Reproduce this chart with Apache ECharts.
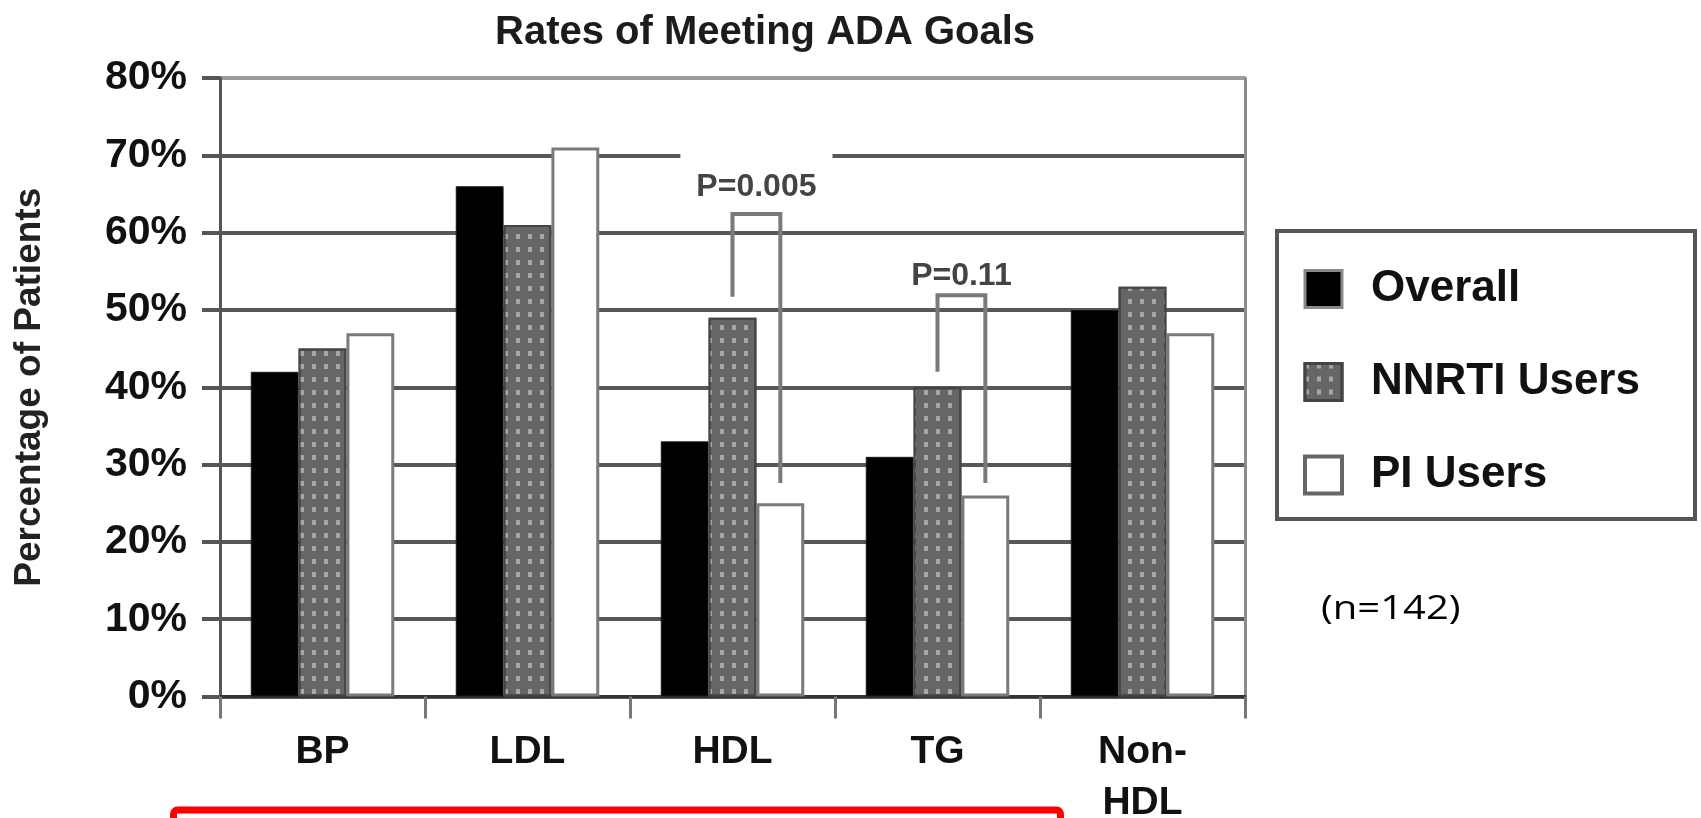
<!DOCTYPE html>
<html>
<head>
<meta charset="utf-8">
<script src="https://cdn.jsdelivr.net/npm/echarts@6/dist/echarts.min.js"></script>
<style>
  html, body { margin: 0; padding: 0; background: #fff; }
  #chart { width: 1701px; height: 818px; }
</style>
</head>
<body>
<div id="chart"></div>
<script>
// Goal categories and the share of patients (%) meeting each ADA goal
const categories = ['BP', 'LDL', 'HDL', 'TG', 'Non-\nHDL'];
const overall = [42, 66, 33, 31, 50];
const nnrtiUsers = [45, 61, 49, 40, 53];
const piUsers = [47, 71, 25, 26, 47];

// Y axis scale (%)
const yMin = 0;
const yMax = 80;
const yStep = 10;

// Significance brackets between NNRTI and PI bars (all levels in %)
const bracketCats = ['HDL', 'TG'];
const bracketTop = [62.4, 51.9];
const bracketLeftEnd = [51.7, 42];
const bracketRightEnd = [27.6, 27.6];
const bracketLabelLevel = [66.2, 54.7];
const bracketLabels = ['P=0.005', 'P=0.11'];

const FONT = '"Liberation Sans", Arial, sans-serif';
const CAT_GAP = 0.30;   // share of each category band left empty
const N_BARS = 3;

const chart = echarts.init(document.getElementById('chart'), null, { renderer: 'canvas' });

const gridColors = [];
for (let v = yMin; v <= yMax; v += yStep) gridColors.push(v === yMax ? '#9c9c9c' : '#575757');

function renderBracket(params, api) {
  const idx = api.value(0);
  const center = api.coord([idx, 0])[0];
  const band = api.size([1, 0])[0];
  const barW = band * (1 - CAT_GAP) / N_BARS;
  const xl = center;          // middle of the NNRTI bar
  const xr = center + barW;   // middle of the PI bar
  const yTop = api.coord([idx, api.value(1)])[1];
  const yL = api.coord([idx, api.value(2)])[1];
  const yR = api.coord([idx, api.value(3)])[1];
  const yText = api.coord([idx, api.value(4)])[1];
  return {
    type: 'group',
    children: [
      {
        // p-value on a white plate; the bottom anchor sits below the glyph centre
        type: 'text',
        x: (xl + xr) / 2,
        y: yText + 22.5,
        style: {
          text: bracketLabels[params.dataIndex],
          font: 'bold 32px ' + FONT,
          fill: '#444',
          align: 'center',
          verticalAlign: 'bottom',
          backgroundColor: '#fff',
          padding: [18.5, 16, 4, 16]
        }
      },
      {
        type: 'polyline',
        shape: { points: [[xl, yL], [xl, yTop], [xr, yTop], [xr, yR]] },
        style: { stroke: '#7a7a7a', lineWidth: 4, fill: null, lineJoin: 'miter' }
      }
    ]
  };
}

const option = {
  animation: false,
  backgroundColor: '#fff',
  title: {
    text: 'Rates of Meeting ADA Goals',
    left: 490,
    top: 8,
    textStyle: { fontFamily: FONT, fontSize: 40, fontWeight: 'bold', color: '#1c1c1c' }
  },
  grid: {
    left: 220, right: 456, top: 78, bottom: 121.5,
    containLabel: false,
    outerBoundsMode: 'none'
  },
  legend: {
    orient: 'vertical',
    left: 1298,
    top: 262,
    icon: 'rect',
    itemWidth: 37,
    itemHeight: 37,
    itemGap: 49,
    selectedMode: false,
    textStyle: {
      fontFamily: FONT, fontSize: 44, fontWeight: 'bold', color: '#111',
      lineHeight: 37, padding: [0, 0, 0, 24]
    },
    data: [
      { name: 'Overall', itemStyle: { borderColor: '#8a8a8a', borderWidth: 3 } },
      { name: 'NNRTI Users', itemStyle: { borderColor: '#444', borderWidth: 3 } },
      { name: 'PI Users', itemStyle: { borderColor: '#666', borderWidth: 4 } }
    ]
  },
  xAxis: {
    type: 'category',
    data: categories,
    boundaryGap: true,
    axisLine: { lineStyle: { color: '#333', width: 3 } },
    axisTick: { show: true, length: 22, lineStyle: { color: '#777', width: 3 } },
    axisLabel: {
      margin: 30, fontFamily: FONT, fontSize: 39, fontWeight: 'bold',
      color: '#111', lineHeight: 51
    },
    splitLine: { show: false }
  },
  yAxis: [
    {
      type: 'value',
      min: yMin,
      max: yMax,
      interval: yStep,
      name: 'Percentage of Patients',
      nameLocation: 'middle',
      nameGap: 172,
      nameTextStyle: { fontFamily: FONT, fontSize: 37, fontWeight: 'bold', color: '#222' },
      axisLine: { show: true, lineStyle: { color: '#555', width: 3 } },
      axisTick: { show: true, length: 18, lineStyle: { color: '#555', width: 4 } },
      axisLabel: {
        margin: 33, fontFamily: FONT, fontSize: 41, fontWeight: 'bold', color: '#111',
        formatter: '{value}%'
      },
      splitLine: { show: true, lineStyle: { color: gridColors, width: 4 } }
    },
    {
      type: 'value',
      min: yMin,
      max: yMax,
      interval: yStep,
      position: 'right',
      axisLine: { show: true, lineStyle: { color: '#8c8c8c', width: 3 } },
      axisTick: { show: false },
      axisLabel: { show: false },
      splitLine: { show: false }
    }
  ],
  series: [
    {
      name: 'Overall',
      type: 'bar',
      data: overall,
      barGap: '0%',
      barCategoryGap: (CAT_GAP * 100) + '%',
      itemStyle: { color: '#000', borderColor: '#1a1a1a', borderWidth: 1 }
    },
    {
      name: 'NNRTI Users',
      type: 'bar',
      data: nnrtiUsers,
      barGap: '0%',
      barCategoryGap: (CAT_GAP * 100) + '%',
      itemStyle: {
        color: '#666666',
        borderColor: '#454545',
        borderWidth: 2,
        decal: {
          symbol: 'rect',
          symbolSize: 1,
          dashArrayX: [4, 8],
          dashArrayY: [5, 8],
          color: '#a6a6a6',
          rotation: 0
        }
      }
    },
    {
      name: 'PI Users',
      type: 'bar',
      data: piUsers,
      barGap: '0%',
      barCategoryGap: (CAT_GAP * 100) + '%',
      itemStyle: { color: '#fff', borderColor: '#7a7a7a', borderWidth: 3 }
    },
    {
      name: 'brackets',
      type: 'custom',
      renderItem: renderBracket,
      data: bracketCats.map((c, i) => [
        c, bracketTop[i], bracketLeftEnd[i], bracketRightEnd[i], bracketLabelLevel[i]
      ]),
      z: 5,
      silent: true
    }
  ],
  graphic: [
    {
      // legend frame
      type: 'rect',
      shape: { x: 1277, y: 231, width: 418, height: 288 },
      style: { fill: null, stroke: '#555', lineWidth: 4 },
      z: 1
    },
    {
      type: 'text',
      x: 1321,
      y: 610,
      scaleX: 1.25,
      style: {
        text: '(n=142)',
        font: '32px "Open Sans", sans-serif',
        fill: '#000',
        verticalAlign: 'middle'
      }
    },
    {
      // red highlight frame along the bottom edge
      type: 'rect',
      shape: { x: 173.5, y: 810, width: 887, height: 60, r: 4 },
      style: { fill: null, stroke: '#ff0000', lineWidth: 7 }
    }
  ]
};

chart.setOption(option);
</script>
</body>
</html>
